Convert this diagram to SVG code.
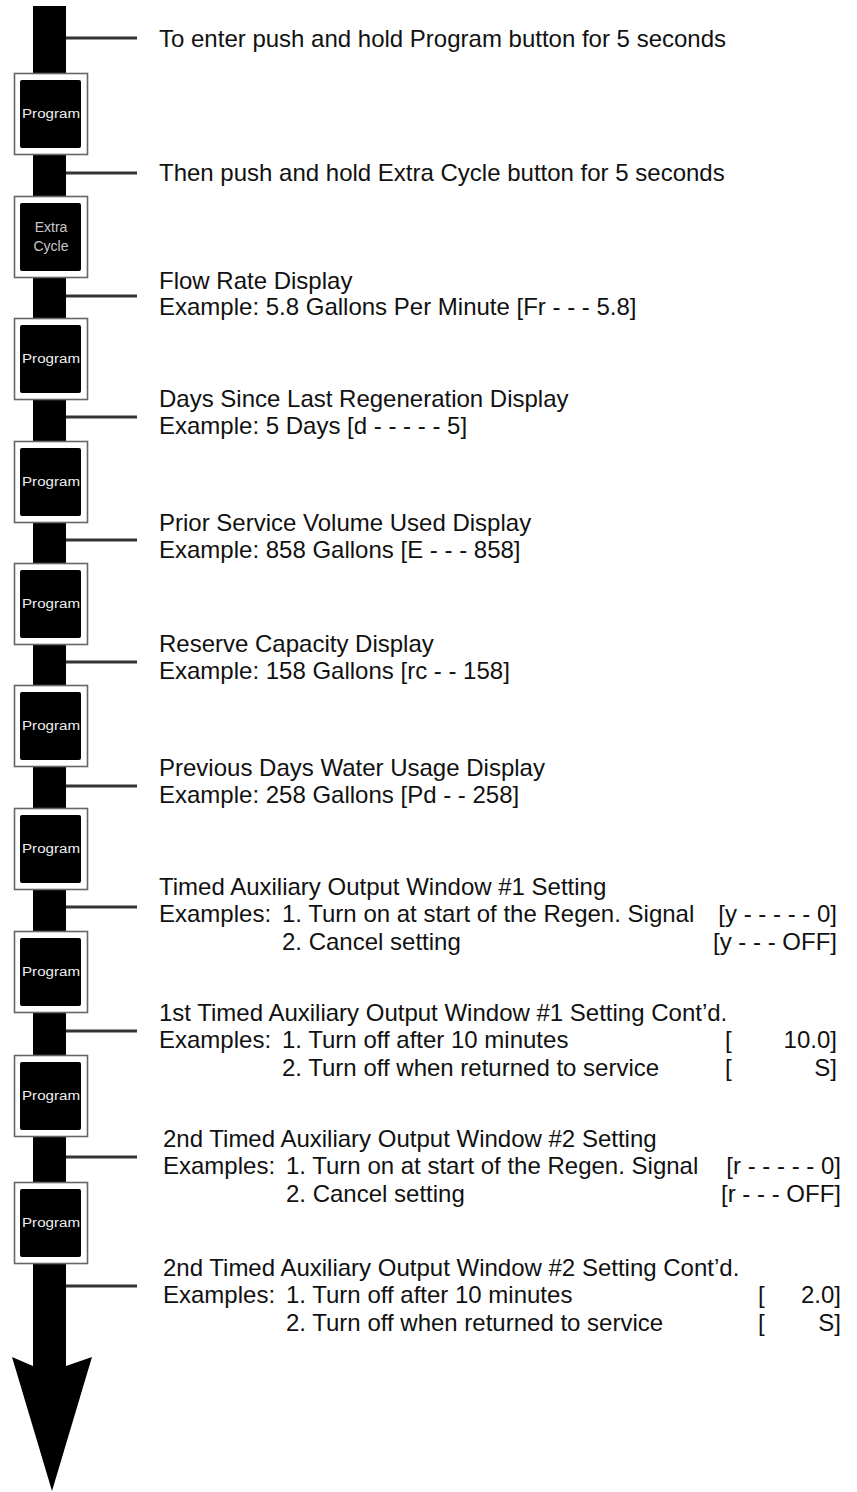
<svg xmlns="http://www.w3.org/2000/svg" width="857" height="1492" viewBox="0 0 857 1492">
<style>
.t{font-family:"Liberation Sans",Arial,sans-serif;font-size:24px;fill:#111}
.e{text-anchor:end}
.btn-o{fill:#fff;stroke:#666;stroke-width:1.6}
.btn-i{fill:#000}
.bl{font-family:"Liberation Sans",Arial,sans-serif;font-size:12px;fill:#eee}
.bx{font-family:"Liberation Sans",Arial,sans-serif;font-size:14px;fill:#c8c8c8;text-anchor:middle}
.c{stroke:#333;stroke-width:3}
</style>
<g id="arrow">
<rect x="33" y="6" width="33" height="1362" fill="#000"/>
<polygon points="33,1366 12,1357 52,1491 92,1357 66,1366" fill="#000"/>
</g>
<g id="connectors">
<line class="c" x1="66" y1="38" x2="137" y2="38"/>
<line class="c" x1="66" y1="173" x2="137" y2="173"/>
<line class="c" x1="66" y1="296" x2="137" y2="296"/>
<line class="c" x1="66" y1="417" x2="137" y2="417"/>
<line class="c" x1="66" y1="540" x2="137" y2="540"/>
<line class="c" x1="66" y1="662" x2="137" y2="662"/>
<line class="c" x1="66" y1="786" x2="137" y2="786"/>
<line class="c" x1="66" y1="907" x2="137" y2="907"/>
<line class="c" x1="66" y1="1031" x2="137" y2="1031"/>
<line class="c" x1="66" y1="1157" x2="137" y2="1157"/>
<line class="c" x1="66" y1="1286" x2="137" y2="1286"/>
</g>
<g id="btn1"><rect class="btn-o" x="14.5" y="73.5" width="73" height="81"/><rect class="btn-i" x="20" y="80" width="61" height="68" rx="2"/><text class="bl" x="22" y="118" textLength="58" lengthAdjust="spacingAndGlyphs">Program</text></g>
<g id="btn2"><rect class="btn-o" x="14.5" y="196.5" width="73" height="81"/><rect class="btn-i" x="20" y="203" width="61" height="68" rx="2"/><text class="bx" x="51" y="232">Extra</text><text class="bx" x="51" y="251">Cycle</text></g>
<g id="btn3"><rect class="btn-o" x="14.5" y="318.5" width="73" height="81"/><rect class="btn-i" x="20" y="325" width="61" height="68" rx="2"/><text class="bl" x="22" y="363" textLength="58" lengthAdjust="spacingAndGlyphs">Program</text></g>
<g id="btn4"><rect class="btn-o" x="14.5" y="441.5" width="73" height="81"/><rect class="btn-i" x="20" y="448" width="61" height="68" rx="2"/><text class="bl" x="22" y="486" textLength="58" lengthAdjust="spacingAndGlyphs">Program</text></g>
<g id="btn5"><rect class="btn-o" x="14.5" y="563.5" width="73" height="81"/><rect class="btn-i" x="20" y="570" width="61" height="68" rx="2"/><text class="bl" x="22" y="608" textLength="58" lengthAdjust="spacingAndGlyphs">Program</text></g>
<g id="btn6"><rect class="btn-o" x="14.5" y="685.5" width="73" height="81"/><rect class="btn-i" x="20" y="692" width="61" height="68" rx="2"/><text class="bl" x="22" y="730" textLength="58" lengthAdjust="spacingAndGlyphs">Program</text></g>
<g id="btn7"><rect class="btn-o" x="14.5" y="808.5" width="73" height="81"/><rect class="btn-i" x="20" y="815" width="61" height="68" rx="2"/><text class="bl" x="22" y="853" textLength="58" lengthAdjust="spacingAndGlyphs">Program</text></g>
<g id="btn8"><rect class="btn-o" x="14.5" y="931.5" width="73" height="81"/><rect class="btn-i" x="20" y="938" width="61" height="68" rx="2"/><text class="bl" x="22" y="976" textLength="58" lengthAdjust="spacingAndGlyphs">Program</text></g>
<g id="btn9"><rect class="btn-o" x="14.5" y="1055.5" width="73" height="81"/><rect class="btn-i" x="20" y="1062" width="61" height="68" rx="2"/><text class="bl" x="22" y="1100" textLength="58" lengthAdjust="spacingAndGlyphs">Program</text></g>
<g id="btn10"><rect class="btn-o" x="14.5" y="1182.5" width="73" height="81"/><rect class="btn-i" x="20" y="1189" width="61" height="68" rx="2"/><text class="bl" x="22" y="1227" textLength="58" lengthAdjust="spacingAndGlyphs">Program</text></g>
<g id="step1"><text class="t" x="159" y="47">To enter push and hold Program button for 5 seconds</text></g>
<g id="step2"><text class="t" x="159" y="181">Then push and hold Extra Cycle button for 5 seconds</text></g>
<g id="step3"><text class="t" x="159" y="289">Flow Rate Display</text><text class="t" x="159" y="315">Example: 5.8 Gallons Per Minute [Fr - - - 5.8]</text></g>
<g id="step4"><text class="t" x="159" y="407">Days Since Last Regeneration Display</text><text class="t" x="159" y="434">Example: 5 Days [d - - - - - 5]</text></g>
<g id="step5"><text class="t" x="159" y="531">Prior Service Volume Used Display</text><text class="t" x="159" y="558">Example: 858 Gallons [E - - - 858]</text></g>
<g id="step6"><text class="t" x="159" y="652">Reserve Capacity Display</text><text class="t" x="159" y="679">Example: 158 Gallons [rc - - 158]</text></g>
<g id="step7"><text class="t" x="159" y="776">Previous Days Water Usage Display</text><text class="t" x="159" y="803">Example: 258 Gallons [Pd - - 258]</text></g>
<g id="step8">
<text class="t" x="159" y="895">Timed Auxiliary Output Window #1 Setting</text>
<text class="t" x="159" y="922">Examples:</text><text class="t" x="282" y="922">1. Turn on at start of the Regen. Signal</text><text class="t e" x="837" y="922">[y - - - - - 0]</text>
<text class="t" x="282" y="950">2. Cancel setting</text><text class="t e" x="837" y="950">[y - - - OFF]</text>
</g>
<g id="step9">
<text class="t" x="159" y="1021">1st Timed Auxiliary Output Window #1 Setting Cont’d.</text>
<text class="t" x="159" y="1048">Examples:</text><text class="t" x="282" y="1048">1. Turn off after 10 minutes</text><text class="t" x="725" y="1048">[</text><text class="t e" x="837" y="1048">10.0]</text>
<text class="t" x="282" y="1076">2. Turn off when returned to service</text><text class="t" x="725" y="1076">[</text><text class="t e" x="837" y="1076">S]</text>
</g>
<g id="step10">
<text class="t" x="163" y="1147">2nd Timed Auxiliary Output Window #2 Setting</text>
<text class="t" x="163" y="1174">Examples:</text><text class="t" x="286" y="1174">1. Turn on at start of the Regen. Signal</text><text class="t e" x="841" y="1174">[r - - - - - 0]</text>
<text class="t" x="286" y="1202">2. Cancel setting</text><text class="t e" x="841" y="1202">[r - - - OFF]</text>
</g>
<g id="step11">
<text class="t" x="163" y="1276">2nd Timed Auxiliary Output Window #2 Setting Cont’d.</text>
<text class="t" x="163" y="1303">Examples:</text><text class="t" x="286" y="1303">1. Turn off after 10 minutes</text><text class="t" x="758" y="1303">[</text><text class="t e" x="841" y="1303">2.0]</text>
<text class="t" x="286" y="1331">2. Turn off when returned to service</text><text class="t" x="758" y="1331">[</text><text class="t e" x="841" y="1331">S]</text>
</g>
</svg>
